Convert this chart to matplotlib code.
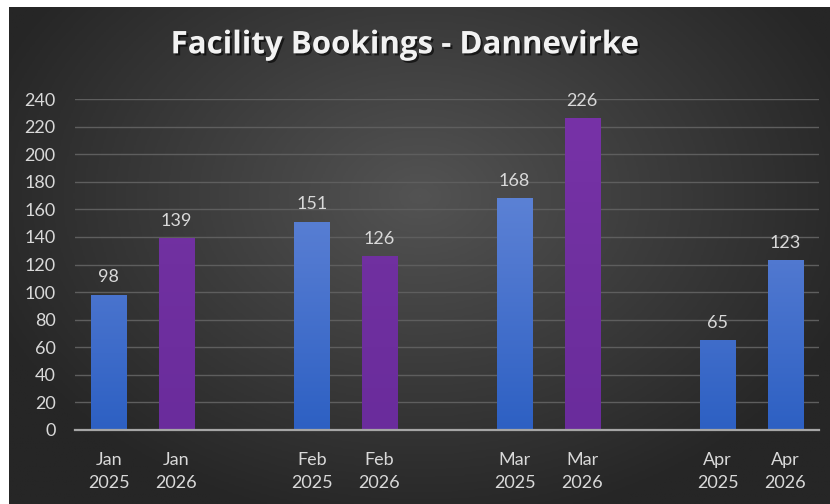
import numpy as np
import matplotlib.pyplot as plt
from matplotlib.colors import LinearSegmentedColormap
import matplotlib.patheffects as pe

# data
months = ['Jan', 'Jan', 'Feb', 'Feb', 'Mar', 'Mar', 'Apr', 'Apr']
years = ['2025', '2026', '2025', '2026', '2025', '2026', '2025', '2026']
bookings = [98, 139, 151, 126, 168, 226, 65, 123]
bar_kind = ['blue', 'purple', 'blue', 'purple', 'blue', 'purple', 'blue', 'blue']

plt.rcParams['font.family'] = ['Lato', 'DejaVu Sans']

fig = plt.figure(figsize=(8.3, 5.04), dpi=100, facecolor='white')

# dark radial background
bg = fig.add_axes([9 / 830, 0, 821 / 830, 497 / 504])
yy, xx = np.mgrid[0:1:300j, 0:1:500j]
r = np.sqrt(((xx - 0.5) / 0.75) ** 2 + ((yy - 0.62) / 0.9) ** 2)
bg_cmap = LinearSegmentedColormap.from_list('bg', ['#535353', '#3c3c3c', '#262626'])
bg.imshow(r, cmap=bg_cmap, aspect='auto', origin='lower', extent=[0, 1, 0, 1],
          vmin=0, vmax=0.75)
bg.set_axis_off()

ax = fig.add_axes([75 / 830, 74 / 504, 744 / 830, 331 / 504])
ax.set_facecolor('none')

pos = [i // 2 * 3 + i % 2 for i in range(len(bookings))]
blue_cmap = LinearSegmentedColormap.from_list('bl', ['#2d60c3', '#5078d0', '#6c8fdc'])
purple_cmap = LinearSegmentedColormap.from_list('pu', ['#6a2c9c', '#7030a0', '#7832a8'])

bars = ax.bar(pos, bookings, width=0.52, color='none', edgecolor='none', zorder=3)
grad = np.linspace(0, 1, 256).reshape(-1, 1)
for b, kind, v in zip(bars, bar_kind, bookings):
    cm = blue_cmap if kind == 'blue' else purple_cmap
    x0 = b.get_x()
    im = ax.imshow(grad, cmap=cm, aspect='auto', origin='lower',
                   extent=[x0, x0 + b.get_width(), 0, 240], zorder=3)
    im.set_clip_path(b)
    ax.annotate(str(v), (b.get_x() + b.get_width() / 2, v), xytext=(0, 7),
                textcoords='offset points', ha='center', va='bottom',
                color='#d9d9d9', fontsize=13)

ax.set_xlim(-0.5, 10.5)
ax.set_ylim(0, 240)
ax.set_yticks(range(0, 241, 20))
ax.set_xticks(pos)
ax.set_xticklabels([m + '\n' + y for m, y in zip(months, years)], linespacing=1.55)
ax.tick_params(colors='#d9d9d9', labelsize=13, length=0)
ax.tick_params(axis='y', pad=14)
ax.tick_params(axis='x', pad=16)
ax.grid(axis='y', color='#5e5e5e', linewidth=1, zorder=0)
for s in ['top', 'right', 'left']:
    ax.spines[s].set_visible(False)
ax.spines['bottom'].set_color('#a6a6a6')
ax.spines['bottom'].set_linewidth(1.6)
ax.spines['bottom'].set_zorder(4)

fig.text(0.488, 0.91, 'Facility Bookings - Dannevirke', ha='center', va='center',
         color='#f2f2f2', fontsize=22.5, fontweight='bold', family=['Open Sans', 'DejaVu Sans'],
         path_effects=[pe.withSimplePatchShadow(offset=(1.5, -1.5), shadow_rgbFace='black', alpha=0.6)])

fig.savefig('out.png', dpi=100, facecolor='white')
